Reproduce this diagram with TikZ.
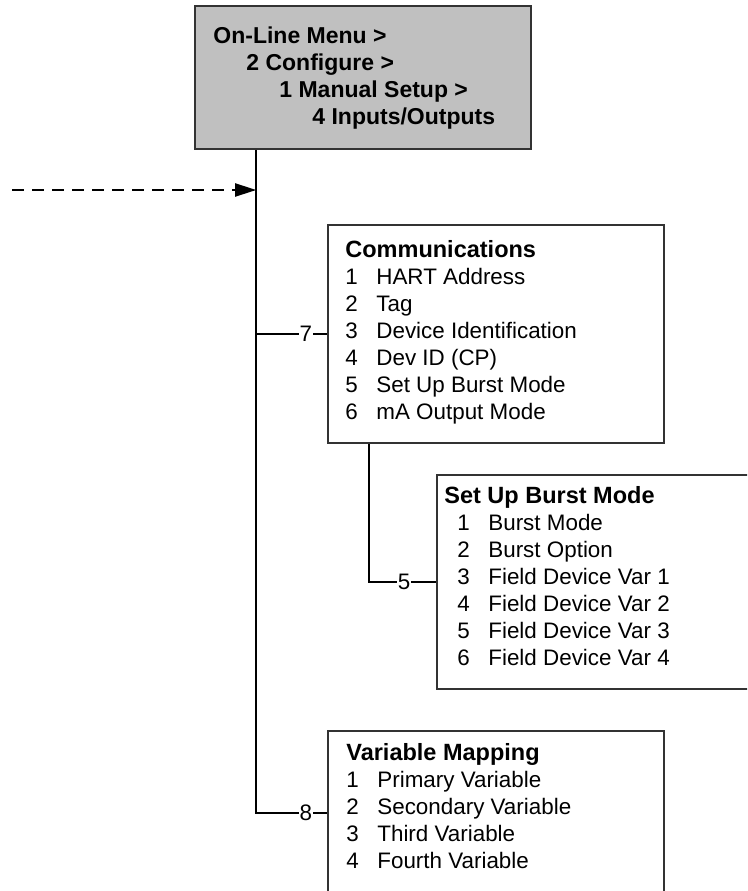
\documentclass[tikz,border=0pt]{standalone}
\usepackage{fontspec}
\setmainfont{Liberation Sans}
\usetikzlibrary{positioning,arrows.meta}

\definecolor{menugray}{RGB}{192,192,192}
\tikzset{
  menubox/.style={rectangle, draw=black!80, line width=1.6pt, minimum width=336pt, inner sep=0pt},
  menutext/.style={anchor=north west, align=left, inner sep=0pt, font=\fontsize{22.4}{27}\selectfont},
  branch/.style={line width=2pt},
  branchnum/.style={fill=white, inner sep=1pt, font=\fontsize{22.4}{22}\selectfont},
}
\newcommand{\mitem}[2]{\makebox[31pt][l]{#1}#2}
\newcommand{\mhead}[1]{{\fontsize{23.5}{27}\selectfont\bfseries #1}}

\begin{document}
\begin{tikzpicture}[x=1pt, y=-1pt]
\useasboundingbox (0,0) rectangle (747,891);
\clip (0,0) rectangle (747,891);

% menu path
\node[menubox, fill=menugray, minimum height=143pt] (path) at (363,77.5) {};
\node[menutext, font=\fontsize{23}{27}\selectfont\bfseries] (pathtxt) at ([shift={(19,21)}]path.north west)
  {On-Line Menu >\\ \hspace*{33pt}2 Configure >\\ \hspace*{66pt}1 Manual Setup >\\ \hspace*{99pt}4 Inputs/Outputs};

% menus
\node[menubox, minimum height=218pt] (comm) at (496,334) {};
\node[menutext] (commtxt) at ([shift={(18,16)}]comm.north west)
  {\mhead{Communications}\\ \mitem{1}{HART Address}\\ \mitem{2}{Tag}\\ \mitem{3}{Device Identification}\\
   \mitem{4}{Dev ID (CP)}\\ \mitem{5}{Set Up Burst Mode}\\ \mitem{6}{mA Output Mode}};

\node[menubox, minimum height=214pt] (burst) at (605,582) {};
\node[menutext] (bursttxt) at ([shift={(8,12)}]burst.north west)
  {\mhead{Set Up Burst Mode}\\ \hspace*{13pt}\mitem{1}{Burst Mode}\\ \hspace*{13pt}\mitem{2}{Burst Option}\\
   \hspace*{13pt}\mitem{3}{Field Device Var 1}\\ \hspace*{13pt}\mitem{4}{Field Device Var 2}\\
   \hspace*{13pt}\mitem{5}{Field Device Var 3}\\ \hspace*{13pt}\mitem{6}{Field Device Var 4}};

\node[menubox, minimum height=164pt] (vmap) at (496,813) {};
\node[menutext] (vmaptxt) at ([shift={(19,13)}]vmap.north west)
  {\mhead{Variable Mapping}\\ \mitem{1}{Primary Variable}\\ \mitem{2}{Secondary Variable}\\
   \mitem{3}{Third Variable}\\ \mitem{4}{Fourth Variable}};

% branches
\coordinate (trunk) at ([xshift=62pt]path.south west);
\coordinate (entry) at (12,190);
\draw[branch, dash pattern=on 12pt off 8pt, -{Triangle[length=21pt,width=13pt]}] (entry) -- (trunk |- entry);
\draw[branch] (trunk) -- (trunk |- vmap.west) -- node[branchnum, pos=.7] (n8) {8} (vmap.west);
\draw[branch] (trunk |- comm.west) -- node[branchnum, pos=.7] (n7) {7} (comm.west);
\draw[branch] ([xshift=42pt]comm.south west) |- node[branchnum, pos=.76] (n5) {5} (burst.west);
\end{tikzpicture}
\end{document}
